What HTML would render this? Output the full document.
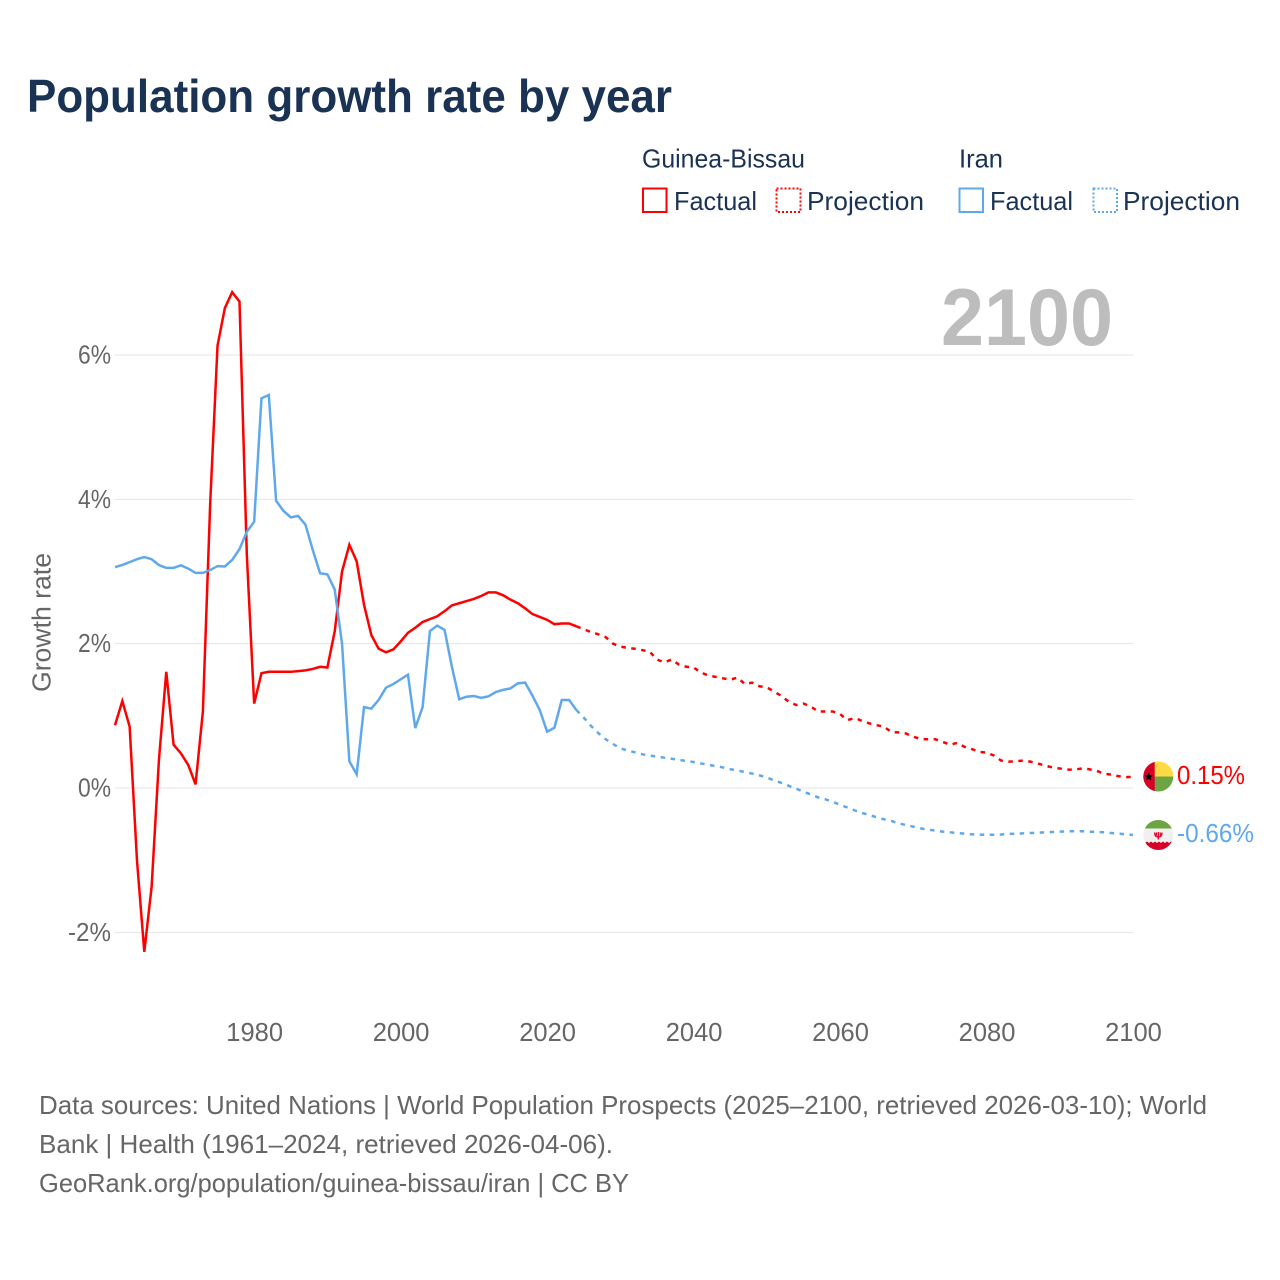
<!DOCTYPE html>
<html lang="en">
<head>
<meta charset="utf-8">
<title>Population growth rate by year</title>
<style>
html,body{margin:0;padding:0;background:#fff;}
svg{display:block;font-family:"Liberation Sans",sans-serif;}
.legend{fill:#1a3354;font-size:26px;}
.tick{fill:#666;font-size:25.5px;}
.foot{fill:#666;font-size:26px;}
</style>
</head>
<body>
<svg id="chart" xmlns="http://www.w3.org/2000/svg" width="1280" height="1280" viewBox="0 0 1280 1280">
  <defs>
    <clipPath id="clip-gw"><circle cx="1158.3" cy="776.5" r="15"/></clipPath>
    <clipPath id="clip-ir"><circle cx="1158.3" cy="835" r="15"/></clipPath>
  </defs>
  <rect width="1280" height="1280" fill="#fff"/>
  <text x="27" y="112" font-size="46" font-weight="700" fill="#1a3354" textLength="645" lengthAdjust="spacingAndGlyphs">Population growth rate by year</text>

  <g>
    <text class="legend" x="642" y="167.5" textLength="163" lengthAdjust="spacingAndGlyphs">Guinea-Bissau</text>
    <text class="legend" x="959" y="167.5" textLength="44" lengthAdjust="spacingAndGlyphs">Iran</text>
    <g>
      <rect x="643" y="188.5" width="23.5" height="23.5" fill="none" stroke="#ff0000" stroke-width="2"/>
      <text class="legend" x="674" y="210" textLength="83" lengthAdjust="spacingAndGlyphs">Factual</text>
    </g>
    <g>
      <rect x="776.5" y="188.5" width="24" height="23.5" fill="none" stroke="#ff0000" stroke-width="2" stroke-dasharray="2 2"/>
      <text class="legend" x="807" y="210" textLength="117" lengthAdjust="spacingAndGlyphs">Projection</text>
    </g>
    <g>
      <rect x="959.5" y="188.5" width="23.5" height="23.5" fill="none" stroke="#5fa8ec" stroke-width="2"/>
      <text class="legend" x="990" y="210" textLength="83" lengthAdjust="spacingAndGlyphs">Factual</text>
    </g>
    <g>
      <rect x="1093.5" y="188.5" width="23.5" height="23.5" fill="none" stroke="#5fa8ec" stroke-width="2" stroke-dasharray="2 2"/>
      <text class="legend" x="1123" y="210" textLength="117" lengthAdjust="spacingAndGlyphs">Projection</text>
    </g>
  </g>

  <g id="grid"></g>
  <text x="941" y="345" font-size="81" font-weight="700" fill="#bdbdbd" textLength="172" lengthAdjust="spacingAndGlyphs">2100</text>
  <g id="y-axis"></g>
  <g id="x-axis"></g>
  <text class="tick" transform="translate(50.5,692) rotate(-90)" x="0" y="0" textLength="139" lengthAdjust="spacingAndGlyphs">Growth rate</text>
  <g id="series"></g>

  <g id="flag-gw">
    <g clip-path="url(#clip-gw)">
      <rect x="1143" y="761" width="31" height="15.5" fill="#ffda44"/>
      <rect x="1143" y="776.5" width="31" height="16" fill="#6da544"/>
      <rect x="1143" y="761" width="11.7" height="31" fill="#d80027"/>
      <polygon points="1148.7,772.3 1149.8,775.3 1153,775.4 1150.5,777.4 1151.4,780.5 1148.7,778.7 1146,780.5 1146.9,777.4 1144.4,775.4 1147.6,775.3" fill="#000"/>
    </g>
  </g>
  <g id="flag-ir">
    <g clip-path="url(#clip-ir)">
      <rect x="1143" y="820" width="31" height="31" fill="#f0f0f0"/>
      <rect x="1143" y="820" width="31" height="8.5" fill="#6da544"/>
      <polygon points="1143,841.5 1145,843 1147,841.5 1149,843 1151,841.5 1153,843 1155,841.5 1157,843 1159,841.5 1161,843 1163,841.5 1165,843 1167,841.5 1169,843 1171,841.5 1174,843 1174,851 1143,851" fill="#d80027"/>
      <path d="M1154.6 832.5c0 3 1.5 4.5 3.7 4.5s3.7-1.5 3.7-4.5M1158.3 832v7.5M1156.4 832.5v3M1160.2 832.5v3" fill="none" stroke="#d80027" stroke-width="1.3"/>
    </g>
  </g>
  <text id="label-gw" x="1177" font-size="25.5" fill="#ff0000" textLength="68" lengthAdjust="spacingAndGlyphs"></text>
  <text id="label-ir" x="1177" font-size="25.5" fill="#5fa8ec" textLength="77" lengthAdjust="spacingAndGlyphs"></text>

  <g>
    <text class="foot" x="39" y="1114" textLength="1168" lengthAdjust="spacingAndGlyphs">Data sources: United Nations | World Population Prospects (2025–2100, retrieved 2026-03-10); World</text>
    <text class="foot" x="39" y="1153" textLength="574" lengthAdjust="spacingAndGlyphs">Bank | Health (1961–2024, retrieved 2026-04-06).</text>
    <text class="foot" x="39" y="1192" textLength="590" lengthAdjust="spacingAndGlyphs">GeoRank.org/population/guinea-bissau/iran | CC BY</text>
  </g>
</svg>
<script>
const firstFactualYear = 1961;
const firstProjectionYear = 2024;
const yTicks = [-2, 0, 2, 4, 6];
const yTickLabels = ["-2%", "0%", "2%", "4%", "6%"];
const xTicks = [1980, 2000, 2020, 2040, 2060, 2080, 2100];
const endLabels = ["0.15%", "-0.66%"];

// Guinea-Bissau, 1961-2024
const guineaFactual = [0.87,1.205,0.85,-1.0,-2.27,-1.37,0.39,1.61,0.6,0.48,0.32,0.05,1.06,3.95,6.13,6.65,6.87,6.74,3.23,1.17,
1.59,1.61,1.61,1.61,1.61,1.62,1.63,1.65,1.68,1.67,2.17,3.0,3.37,3.14,2.54,2.12,1.93,1.88,1.92,2.03,
2.15,2.22,2.30,2.34,2.38,2.45,2.53,2.56,2.59,2.62,2.66,2.71,2.71,2.67,2.61,2.56,2.49,2.41,2.37,2.33,
2.27,2.28,2.28,2.24];
// Guinea-Bissau, 2024-2100
const guineaProjection = [2.24,2.20,2.16,2.13,2.09,2.0,1.96,1.94,1.93,1.91,1.89,1.78,1.74,1.78,1.71,1.68,1.67,1.60,1.56,1.54,
1.52,1.50,1.53,1.44,1.46,1.41,1.395,1.335,1.275,1.195,1.15,1.17,1.13,1.06,1.06,1.06,1.025,0.94,0.97,0.93,
0.895,0.87,0.85,0.776,0.77,0.755,0.71,0.68,0.675,0.675,0.64,0.60,0.625,0.57,0.54,0.50,0.49,0.45,0.38,0.365,
0.37,0.38,0.365,0.34,0.31,0.285,0.27,0.255,0.255,0.27,0.26,0.24,0.2,0.185,0.165,0.15,0.155];
// Iran, 1961-2024
const iranFactual = [3.06,3.09,3.13,3.17,3.20,3.17,3.09,3.05,3.05,3.085,3.04,2.98,2.98,3.02,3.075,3.07,3.16,3.31,3.55,3.69,
5.40,5.445,3.98,3.84,3.75,3.77,3.65,3.30,2.975,2.96,2.75,2.0,0.37,0.19,1.12,1.10,1.22,1.39,1.44,1.505,
1.57,0.83,1.12,2.175,2.25,2.19,1.68,1.23,1.265,1.275,1.25,1.27,1.33,1.36,1.38,1.45,1.46,1.28,1.08,0.78,
0.835,1.22,1.22,1.08];
// Iran, 2024-2100
const iranProjection = [1.08,0.975,0.86,0.76,0.675,0.61,0.55,0.517,0.495,0.467,0.45,0.435,0.42,0.406,0.39,0.374,0.36,0.34,0.32,0.305,
0.285,0.26,0.245,0.22,0.2,0.175,0.145,0.105,0.07,0.03,-0.01,-0.05,-0.09,-0.13,-0.157,-0.19,-0.235,-0.27,-0.31,-0.346,
-0.374,-0.406,-0.434,-0.457,-0.49,-0.513,-0.536,-0.56,-0.577,-0.59,-0.605,-0.614,-0.624,-0.633,-0.642,-0.645,-0.648,-0.648,-0.645,-0.637,
-0.633,-0.628,-0.624,-0.619,-0.614,-0.61,-0.605,-0.6,-0.6,-0.6,-0.605,-0.61,-0.614,-0.624,-0.633,-0.64,-0.651];

const NS = "http://www.w3.org/2000/svg";
const X_LEFT = 115, X_RIGHT = 1133, YEAR_MIN = 1961, YEAR_MAX = 2100;
const Y_ZERO = 788, Y_PER_UNIT = 72.17;
const RED = "#ff0000", BLUE = "#5fa8ec";

function xScale(year) {
  return X_LEFT + (year - YEAR_MIN) * (X_RIGHT - X_LEFT) / (YEAR_MAX - YEAR_MIN);
}
function yScale(value) {
  return Y_ZERO - value * Y_PER_UNIT;
}
function linePath(values, startYear) {
  return values.map(function (v, i) {
    return (i ? "L" : "M") + xScale(startYear + i).toFixed(2) + " " + yScale(v).toFixed(2);
  }).join("");
}
function addSeries(values, startYear, color, dashed, name) {
  const p = document.createElementNS(NS, "path");
  
  
  p.setAttribute("d", linePath(values, startYear));
  p.setAttribute("fill", "none");
  p.setAttribute("stroke", color);
  p.setAttribute("stroke-width", "2.5");
  p.setAttribute("stroke-linejoin", "miter");
  if (dashed) p.setAttribute("stroke-dasharray", "4.5 5.5");
  document.getElementById("series").appendChild(p);
}

yTicks.forEach(function (t, i) {
  const line = document.createElementNS(NS, "line");
  
  
  line.setAttribute("x1", X_LEFT);
  line.setAttribute("x2", X_RIGHT);
  line.setAttribute("y1", yScale(t));
  line.setAttribute("y2", yScale(t));
  line.setAttribute("stroke", "#e4e4e4");
  line.setAttribute("stroke-width", "1");
  document.getElementById("grid").appendChild(line);

  const label = document.createElementNS(NS, "text");
  
  
  label.setAttribute("class", "tick");
  label.setAttribute("text-anchor", "end");
  label.setAttribute("x", 111);
  label.setAttribute("y", yScale(t) + 8.5);
  label.setAttribute("textLength", 33 + 10 * (yTickLabels[i].length - 2));
  label.setAttribute("lengthAdjust", "spacingAndGlyphs");
  label.textContent = yTickLabels[i];
  document.getElementById("y-axis").appendChild(label);
});

xTicks.forEach(function (year) {
  const label = document.createElementNS(NS, "text");
  
  
  label.setAttribute("class", "tick");
  label.setAttribute("text-anchor", "middle");
  label.setAttribute("x", xScale(year) + 0.5);
  label.setAttribute("y", 1041);
  label.textContent = String(year);
  document.getElementById("x-axis").appendChild(label);
});

addSeries(guineaFactual, firstFactualYear, RED, false, "guinea-bissau-factual-line");
addSeries(guineaProjection, firstProjectionYear, RED, true, "guinea-bissau-projection-line");
addSeries(iranFactual, firstFactualYear, BLUE, false, "iran-factual-line");
addSeries(iranProjection, firstProjectionYear, BLUE, true, "iran-projection-line");

const labelGw = document.getElementById("label-gw");
labelGw.textContent = endLabels[0];
labelGw.setAttribute("y", yScale(guineaProjection[guineaProjection.length - 1]) + 7);
const labelIr = document.getElementById("label-ir");
labelIr.textContent = endLabels[1];
labelIr.setAttribute("y", yScale(iranProjection[iranProjection.length - 1]) + 7);
</script>
</body>
</html>
